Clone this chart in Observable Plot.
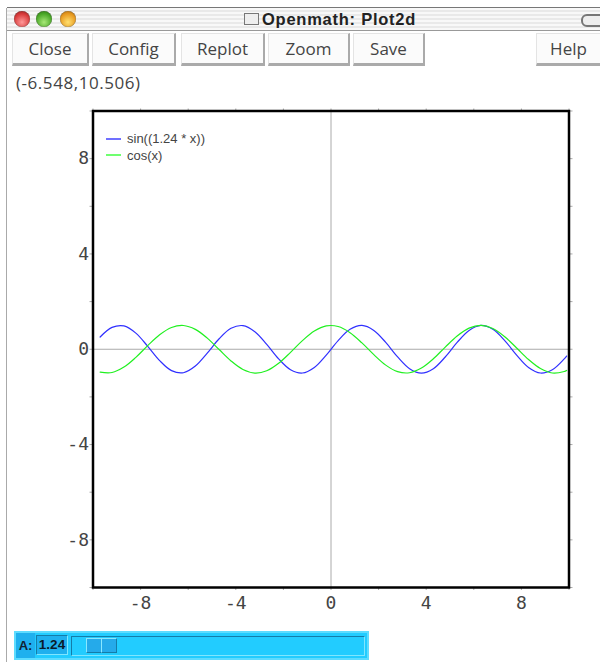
<!DOCTYPE html>
<html>
<head>
<meta charset="utf-8">
<script src="https://cdn.jsdelivr.net/npm/d3@7"></script>
<script src="https://cdn.jsdelivr.net/npm/@observablehq/plot@0.6"></script>
<style>
html,body{margin:0;padding:0;background:#fff;width:600px;height:662px;overflow:hidden}
#win{position:relative;width:600px;height:662px;font-family:"Open Sans",sans-serif;color:#333}
#win>*{position:absolute}
#chart{left:0;top:0}
#chart svg{display:block;background:transparent}
#border{left:6px;top:8px;width:1px;height:654px;background:#aaa}
#titlebar{left:7px;top:7px;width:593px;height:24px;border-top:1px solid #777;border-bottom:1px solid #999;box-sizing:border-box;
 background:repeating-linear-gradient(#f8f8f8 0 2px,#e9e9e9 2px 4px)}
.light{width:16px;height:16px;border-radius:50%;top:11px;box-shadow:inset 0 0 1px #333}
#title{left:262px;top:9px;font:bold 16.5px "Liberation Sans",sans-serif;color:#222;letter-spacing:.75px;white-space:nowrap;line-height:20px}
#ticon{left:244px;top:13px;width:13px;height:10px;border:1px solid #777;background:#eee}
#pill{left:581px;top:14px;width:30px;height:9px;border:2px solid #777;border-radius:6px;background:#eee}
.btn{top:33px;height:33px;box-sizing:border-box;background:#fbfbfb;border:1px solid #e4e4e4;border-right:2px solid #aaa;border-bottom:3px solid #aaa;
 text-align:center;font:17px/29px "Open Sans",sans-serif;color:#444}
#coord{left:16px;top:73px;font:17px/20px "Open Sans",sans-serif;color:#444;white-space:nowrap;letter-spacing:.55px}
.lg{font:13px/14px "Liberation Sans",sans-serif;color:#444;left:127px;white-space:nowrap}
.sw{left:106px;width:15px;height:2px}
#slider{left:14px;top:631px;width:355px;height:29px;background:#22ccff;box-sizing:border-box;border:2px solid #5ddcff}
#aleft{left:16px;top:633px;width:19px;height:25px;background:#1fb0ee;font:bold 13px/25px "Liberation Sans",sans-serif;color:#123;text-align:center}
#aval{left:36px;top:635px;width:32px;height:20px;box-sizing:border-box;background:#1fb0ee;border:1.5px solid #157ca8;border-right-color:#7fe6ff;border-bottom-color:#7fe6ff;
 font:bold 13.5px/17px "Liberation Sans",sans-serif;color:#0a1a2a;text-align:center}
#track{left:71px;top:636px;width:294px;height:20px;box-sizing:border-box;background:#22ccff;border:1.5px solid #157ca8;border-right-color:#7fe6ff;border-bottom-color:#7fe6ff}
.cell{top:638px;height:15px;box-sizing:border-box;background:#25aaea;border:1px solid #8ae8ff;border-right-color:#157ca8;border-bottom-color:#157ca8}
</style>
</head>
<body>
<div id="win">
 <div id="chart"></div>
 <div id="border"></div>
 <div id="titlebar"></div>
 <div class="light" style="left:14px;background:radial-gradient(circle at 50% 70%,#ff9a9a,#d83a3a 60%,#8a2020)"></div>
 <div class="light" style="left:36px;background:radial-gradient(circle at 50% 70%,#a8e878,#4aa828 60%,#2a7010)"></div>
 <div class="light" style="left:60px;background:radial-gradient(circle at 50% 70%,#ffe070,#e89a20 60%,#a86810)"></div>
 <div id="ticon"></div>
 <div id="title">Openmath: Plot2d</div>
 <div id="pill"></div>
 <div class="btn" style="left:12px;width:77px">Close</div>
 <div class="btn" style="left:92px;width:84px">Config</div>
 <div class="btn" style="left:181px;width:84px">Replot</div>
 <div class="btn" style="left:268px;width:82px">Zoom</div>
 <div class="btn" style="left:353px;width:72px">Save</div>
 <div class="btn" style="left:536px;width:66px">Help</div>
 <div id="coord">(-6.548,10.506)</div>
 <div class="sw" style="top:138px;background:#7070ff"></div>
 <div class="lg" style="top:132px">sin((1.24 * x))</div>
 <div class="sw" style="top:154px;background:#70ff70"></div>
 <div class="lg" style="top:149px">cos(x)</div>
 <div id="slider"></div>
 <div id="aleft">A:</div>
 <div id="aval">1.24</div>
 <div id="track"></div>
 <div class="cell" style="left:86px;width:16px"></div>
 <div class="cell" style="left:101px;width:16px"></div>
</div>
<script>
const xValues = [-9.7,-9.2,-8.7,-8.2,-7.7,-7.2,-6.7,-6.2,-5.7,-5.2,-4.7,-4.2,-3.7,-3.2,-2.7,-2.2,-1.7,-1.2,-0.7,-0.2,0.3,0.8,1.3,1.8,2.3,2.8,3.3,3.8,4.3,4.8,5.3,5.8,6.3,6.8,7.3,7.8,8.3,8.8,9.3,9.8,9.9];
const sinValues = [0.513,0.916,0.979,0.676,0.123,-0.476,-0.898,-0.986,-0.706,-0.164,0.440,0.880,0.992,0.735,0.205,-0.402,-0.859,-0.997,-0.763,-0.245,0.363,0.837,0.999,0.790,0.287,-0.324,-0.814,-1.000,-0.815,-0.325,0.285,0.789,0.999,0.838,0.363,-0.245,-0.762,-0.997,-0.859,-0.402,-0.285];
const cosValues = [-0.962,-0.975,-0.748,-0.339,0.153,0.608,0.914,0.997,0.835,0.468,-0.012,-0.490,-0.848,-0.998,-0.904,-0.589,-0.129,0.362,0.765,0.980,0.955,0.697,0.267,-0.227,-0.666,-0.942,-0.987,-0.791,-0.401,0.088,0.554,0.886,1.000,0.869,0.526,0.054,-0.432,-0.811,-0.998,-0.933,-0.889];
const tickValues = [-10,-8,-6,-4,-2,0,2,4,6,8,10];
const labelledTicks = [-8,-4,0,4,8];
const axisDomain = [-10,10];

const labelFmt = d => labelledTicks.includes(d) ? (d < 0 ? "-" + (-d) : String(d)) : "";
const blank = () => "";
const axisStyle = {ticks: tickValues, tickSize: 3, stroke: "#aaa", fill: "#444", fontSize: 18, label: null};

const sinData = xValues.map((x,i) => ({x, y: sinValues[i]}));
const cosData = xValues.map((x,i) => ({x, y: cosValues[i]}));

const chart = Plot.plot({
  width: 600, height: 662,
  marginLeft: 92.5, marginRight: 31.5, marginTop: 110.5, marginBottom: 75,
  style: {fontFamily: '"DejaVu Sans Mono", monospace', background: "transparent"},
  x: {domain: axisDomain},
  y: {domain: axisDomain},
  marks: [
    Plot.ruleY([0], {stroke: "#aaa", strokeWidth: 1}),
    Plot.ruleX([0], {stroke: "#aaa", strokeWidth: 1}),
    Plot.line(sinData, {x: "x", y: "y", stroke: "#3030ff", strokeWidth: 1.2, curve: "catmull-rom"}),
    Plot.line(cosData, {x: "x", y: "y", stroke: "#20f020", strokeWidth: 1.2, curve: "catmull-rom"}),
    Plot.axisX({...axisStyle, anchor: "bottom", tickPadding: 6, tickFormat: labelFmt}),
    Plot.axisX({...axisStyle, anchor: "top", tickFormat: blank}),
    Plot.axisY({...axisStyle, anchor: "left", tickPadding: 1, tickFormat: labelFmt}),
    Plot.axisY({...axisStyle, anchor: "right", tickFormat: blank}),
    Plot.frame({stroke: "#000", strokeWidth: 2.5})
  ]
});
document.getElementById("chart").appendChild(chart);
</script>
</body>
</html>
